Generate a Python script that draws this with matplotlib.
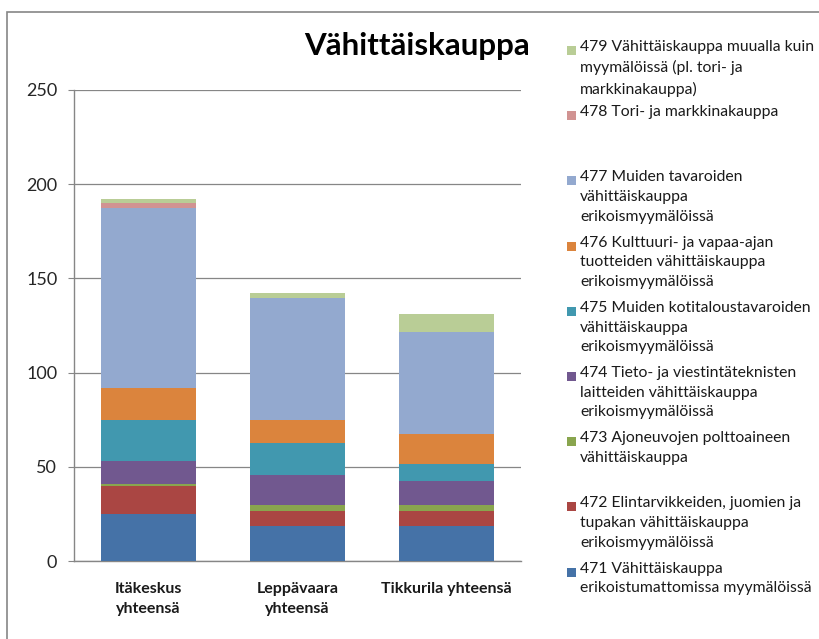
import numpy as np
import matplotlib
matplotlib.use("Agg")
import matplotlib.pyplot as plt
from matplotlib.patches import Rectangle

plt.rcParams['font.family'] = ['Lato', 'DejaVu Sans']

# alueet
categories = ['Itäkeskus\nyhteensä', 'Leppävaara\nyhteensä', 'Tikkurila yhteensä']

# toimialat (alhaalta ylös)
series_names = [
    '471 Vähittäiskauppa\nerikoistumattomissa myymälöissä',
    '472 Elintarvikkeiden, juomien ja\ntupakan vähittäiskauppa\nerikoismyymälöissä',
    '473 Ajoneuvojen polttoaineen\nvähittäiskauppa',
    '474 Tieto- ja viestintäteknisten\nlaitteiden vähittäiskauppa\nerikoismyymälöissä',
    '475 Muiden kotitaloustavaroiden\nvähittäiskauppa\nerikoismyymälöissä',
    '476 Kulttuuri- ja vapaa-ajan\ntuotteiden vähittäiskauppa\nerikoismyymälöissä',
    '477 Muiden tavaroiden\nvähittäiskauppa\nerikoismyymälöissä',
    '478 Tori- ja markkinakauppa',
    '479 Vähittäiskauppa muualla kuin\nmyymälöissä (pl. tori- ja\nmarkkinakauppa)',
]
colors = ['#4572A7', '#AA4643', '#89A54E', '#71588F', '#4198AF',
          '#DB843D', '#93A9CF', '#D19392', '#B9CD96']

v471 = [25, 18.7, 18.7]
v472 = [15, 8, 8]
v473 = [1, 3, 3]
v474 = [12, 16, 12.8]
v475 = [22, 17, 9]
v476 = [17, 12, 16]
v477 = [95.6, 64.8, 54.3]
v478 = [2.3, 0, 0]
v479 = [2.5, 2.5, 9.4]
values = [v471, v472, v473, v474, v475, v476, v477, v478, v479]

yticks = [0, 50, 100, 150, 200, 250]

fig = plt.figure(figsize=(8.19, 6.39), dpi=100)
W, H = 819, 639

# ulkokehys
fig.patches.append(Rectangle((7 / W, -0.1), 1.2, 1 - 12 / H + 0.1,
                             transform=fig.transFigure, fill=False,
                             edgecolor='#868686', linewidth=1.2))

ax = fig.add_axes([74 / W, 1 - 561 / H, (521 - 74) / W, (561 - 90) / H])

x = np.arange(len(categories))
bottom = np.zeros(len(categories))
for name, vals, col in zip(series_names, values, colors):
    ax.bar(x, vals, width=0.64, bottom=bottom, color=col, label=name, zorder=3)
    bottom += np.array(vals)

ax.set_xlim(-0.5, 2.5)
ax.set_ylim(0, 250)
ax.set_yticks(yticks)
ax.set_yticklabels([str(t) for t in yticks], fontsize=13, color='#262626')
ax.set_xticks(x)
ax.set_xticklabels(categories, fontsize=11.5, fontweight='bold', color='#1a1a1a',
                   linespacing=1.6)
ax.tick_params(axis='x', length=0, pad=15)
ax.tick_params(axis='y', length=4, color='#868686', pad=8)
ax.grid(axis='y', color='#868686', linewidth=0.9, zorder=0)
for s in ['top', 'right']:
    ax.spines[s].set_visible(False)
for s in ['left', 'bottom']:
    ax.spines[s].set_color('#868686')
    ax.spines[s].set_linewidth(1.0)

fig.text(417 / W, 1 - 46 / H, 'Vähittäiskauppa', ha='center', va='center',
         fontsize=22.5, fontweight='bold', color='#000000')

# selite, ylin sarja ensin
y0, step = 51, 65.2
for i, (name, col) in enumerate(zip(series_names[::-1], colors[::-1])):
    yy = y0 + i * step
    fig.patches.append(Rectangle((567 / W, 1 - (yy + 4) / H), 9 / W, 9 / H,
                                 transform=fig.transFigure, facecolor=col,
                                 edgecolor='none'))
    fig.text(580 / W, 1 - (yy - 11) / H, name, ha='left', va='top',
             fontsize=11.3, color='#1a1a1a', linespacing=1.52)

fig.savefig('out.png', dpi=100)
